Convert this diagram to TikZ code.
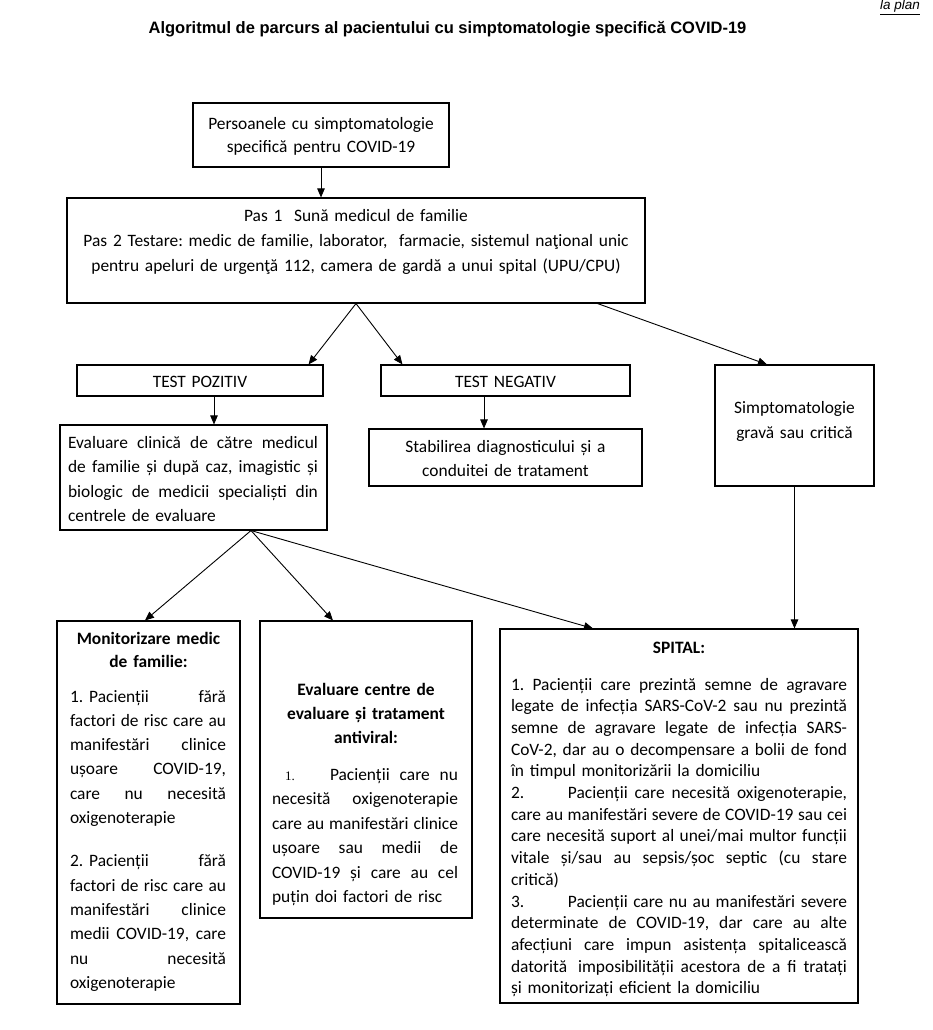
\documentclass[tikz,border=0pt]{standalone}
\usepackage{fontspec}
\setmainfont{Carlito}
\newfontfamily\arialf{Liberation Sans}
\newfontfamily\timesf{Liberation Serif}
\usetikzlibrary{arrows.meta,calc}
\newlength\jw
\newcommand\JL[1]{\makebox[\jw][s]{\spaceskip=\fontdimen2\font plus 1fil\relax #1}\\}
\tikzset{
  box/.style={draw, line width=1.1pt, rectangle, inner sep=0pt},
  txt/.style={inner sep=0pt, outer sep=0pt, anchor=base, font=\fontsize{17.4}{#1}\selectfont},
  txt/.default=24.4,
  htxt/.style={inner sep=0pt, outer sep=0pt, anchor=base, font=\fontsize{17.4}{#1}\selectfont\bfseries},
  htxt/.default=24.4,
  con/.style={line width=0.9pt, -{Triangle[length=9pt,width=7.5pt]}},
}
\begin{document}
\frenchspacing
\begin{tikzpicture}[x=1pt,y=-1pt]
\fill[white] (0,0) rectangle (933,1030);
\useasboundingbox (0,0) rectangle (933,1030);

% header
\node[inner sep=0pt, anchor=base east, font=\arialf\itshape\fontsize{13.5}{16}\selectfont] (plan) at (920,9.5) {\underline{la plan}};
\node[inner sep=0pt, anchor=base, font=\arialf\bfseries\fontsize{16.5}{20}\selectfont] (title) at (447.5,34) {Algoritmul de parcurs al pacientului cu simptomatologie specifică COVID-19};

% boxes
\node[box, minimum width=256pt, minimum height=64pt] (b1) at (321,135) {};
\node[box, minimum width=578pt, minimum height=105pt] (b2) at (356,250.5) {};
\node[box, minimum width=246pt, minimum height=31pt] (tp) at (200,380.5) {};
\node[box, minimum width=249pt, minimum height=31pt] (tn) at (505.5,380.5) {};
\node[box, minimum width=159pt, minimum height=121pt] (simpt) at (794.5,425.5) {};
\node[box, minimum width=267pt, minimum height=105pt] (ev) at (193.5,477.5) {};
\node[box, minimum width=273pt, minimum height=57pt] (stab) at (505.5,457.5) {};
\node[box, minimum width=183pt, minimum height=383pt] (mon) at (148.5,812.5) {};
\node[box, minimum width=212pt, minimum height=297pt] (evc) at (366,769.5) {};
\node[box, minimum width=358pt, minimum height=374pt] (sp) at (679,816) {};

% texts
\node[txt=23, text width=256pt, align=center] (t1) at (321,129) {Persoanele cu simptomatologie\\specifică pentru COVID-19};
\node[txt=25, text width=578pt, align=center] (t2) at (356,221) {Pas 1\ \ Sună medicul de familie\\Pas 2 Testare: medic de familie, laborator,\ \ farmacie, sistemul naţional unic\\pentru apeluri de urgenţă 112, camera de gardă a unui spital (UPU/CPU)};
\node[txt, text width=246pt, align=center] (ttp) at (200,387) {TEST POZITIV};
\node[txt, text width=249pt, align=center] (ttn) at (505.5,387) {TEST NEGATIV};
\node[txt=25, text width=159pt, align=center] (tsimpt) at (794.5,413) {Simptomatologie\\gravă sau critică};
\node[txt=24.6, text width=250pt, align=left] (tev) at (193,448) {\setlength\jw{250pt}%
\JL{Evaluare clinică de către medicul}
\JL{de familie și după caz, imagistic și}
\JL{biologic de medicii specialiști din}
centrele de evaluare};
\node[txt=24, text width=273pt, align=center] (tstab) at (505.5,452) {Stabilirea diagnosticului și a\\conduitei de tratament};

\node[htxt=23, text width=183pt, align=center] (tmonh) at (148.5,644) {Monitorizare medic\\de familie:};
\node[txt=24.3, text width=156pt, align=left] (tmon) at (148,702) {\setlength\jw{156pt}%
\JL{1.\hspace{6pt}Pacienții fără}
\JL{factori de risc care au}
\JL{manifestări clinice}
\JL{ușoare COVID-19,}
\JL{care nu necesită}
oxigenoterapie\\[19pt]
\JL{2.\hspace{6pt}Pacienții fără}
\JL{factori de risc care au}
\JL{manifestări clinice}
\JL{medii COVID-19, care}
\JL{nu necesită}
oxigenoterapie};

\node[htxt=24, text width=212pt, align=center] (tevch) at (366,695) {Evaluare centre de\\evaluare și tratament\\antiviral:};
\node[txt=24.5, text width=186pt, align=left] (tevc) at (365,780) {\setlength\jw{186pt}%
\JL{\hspace*{13pt}\makebox[45pt][l]{\timesf\fontsize{13}{15}\selectfont 1.}Pacienții care nu}
\JL{necesită oxigenoterapie}
\JL{care au manifestări clinice}
\JL{ușoare sau medii de}
\JL{COVID-19 și care au cel}
puțin doi factori de risc};

\node[htxt, text width=358pt, align=center] (tsph) at (679,653) {SPITAL:};
\node[txt=21.7, text width=336pt, align=left] (tsp) at (679,690) {\setlength\jw{336pt}%
\JL{1. Pacienții care prezintă semne de agravare}
\JL{legate de infecția SARS-CoV-2 sau nu prezintă}
\JL{semne de agravare legate de infecția SARS-}
\JL{CoV-2, dar au o decompensare a bolii de fond}
în timpul monitorizării la domiciliu\\
\JL{\makebox[57pt][l]{2.}Pacienții care necesită oxigenoterapie,}
\JL{care au manifestări severe de COVID-19 sau cei}
\JL{care necesită suport al unei/mai multor funcții}
\JL{vitale și/sau au sepsis/șoc septic (cu stare}
critică)\\
\JL{\makebox[57pt][l]{3.}Pacienții care nu au manifestări severe}
\JL{determinate de COVID-19, dar care au alte}
\JL{afecțiuni care impun asistența spitalicească}
\JL{datorită\hspace{4pt} imposibilității acestora de a fi tratați}
și monitorizați eficient la domiciliu};

% connectors
\coordinate (a1) at ([xshift=14pt]tp.south);
\coordinate (a2) at ([xshift=-21.5pt]tn.south);
\coordinate (ap) at ([xshift=57.5pt]ev.south);
\draw[con] (b1.south) -- (b1.south |- b2.north);
\draw[con] (b2.south) -- ([xshift=-15pt]tp.north east);
\draw[con] (b2.south) -- ([xshift=22pt]tn.north west);
\draw[con] ([xshift=-48pt]b2.south east) -- ([xshift=-27.5pt]simpt.north);
\draw[con] (a1) -- (a1 |- ev.north);
\draw[con] (a2) -- (a2 |- stab.north);
\draw[con] (simpt.south) -- (simpt.south |- sp.north);
\draw[con] (ap) -- ([xshift=-3.5pt]mon.north);
\draw[con] (ap) -- ([xshift=-33pt]evc.north);
\draw[con] (ap) -- ([xshift=-86pt]sp.north);
\end{tikzpicture}
\end{document}
